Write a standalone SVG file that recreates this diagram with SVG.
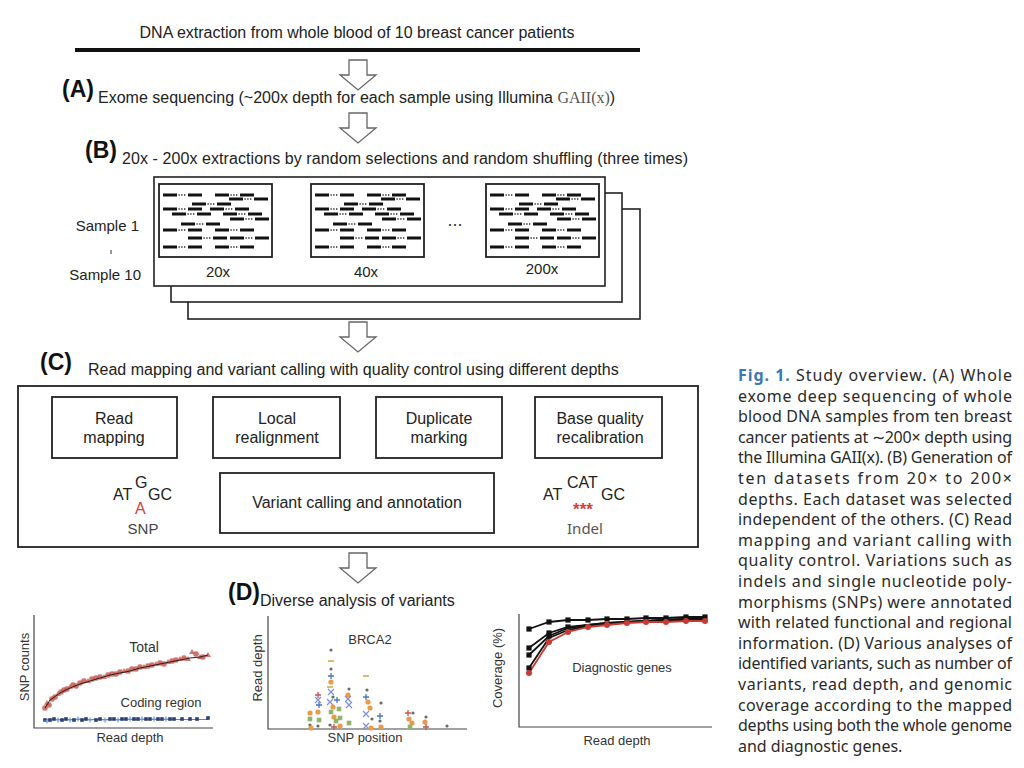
<svg xmlns="http://www.w3.org/2000/svg" xmlns:xlink="http://www.w3.org/1999/xlink" width="1024" height="768" viewBox="0 0 1024 768">
<style>
text{font-family:"Liberation Sans",Arial,sans-serif;fill:#222}
.t16{font-size:16px}
.lab{font-size:23px;font-weight:bold;fill:#111}
.sm{font-size:15px}
.ax{font-size:13px;fill:#333}
.box{fill:none;stroke:#222;stroke-width:1.8}
.frm{fill:#fff;stroke:#222;stroke-width:1.6}
.rd{stroke:#111;stroke-width:3}
.dt{stroke:#111;stroke-width:1.6;stroke-dasharray:1.2 1.6}
.arr{fill:#fff;stroke:#666;stroke-width:1.3}
.axis{fill:none;stroke:#444;stroke-width:1.2}
.cap{font-family:"Noto Sans","Open Sans",sans-serif;font-size:16px;fill:#2a2a2a}
.figl{font-weight:bold;fill:#3a78ba}
</style>
<defs>
<path id="barrow" d="M-9,0 H9 V15 H18 L0,30 L-18,15 H-9 Z"/>
<g id="read"><line x1="0" y1="0" x2="14" y2="0" class="rd"/><line x1="15.5" y1="0" x2="23.5" y2="0" class="dt"/><line x1="25" y1="0" x2="39" y2="0" class="rd"/></g>
<g id="reads">
<use xlink:href="#read" x="4" y="11"/><use xlink:href="#read" x="56" y="11"/>
<use xlink:href="#read" x="70" y="15"/>
<use xlink:href="#read" x="33" y="20"/>
<use xlink:href="#read" x="4" y="25"/><use xlink:href="#read" x="51" y="25"/>
<use xlink:href="#read" x="13" y="30"/><use xlink:href="#read" x="64" y="30"/>
<use xlink:href="#read" x="71" y="35"/>
<use xlink:href="#read" x="22" y="40"/>
<use xlink:href="#read" x="4" y="46"/><use xlink:href="#read" x="56" y="46"/>
<use xlink:href="#read" x="29" y="54"/><use xlink:href="#read" x="71" y="54"/>
<use xlink:href="#read" x="4" y="63"/><use xlink:href="#read" x="56" y="63"/>
</g>
<path id="rs" d="M-3,0H3M0,-3V3M-2.2,-2.2L2.2,2.2M-2.2,2.2L2.2,-2.2" stroke="#c8554f" stroke-width="1.3" opacity="0.85"/>
<path id="rt" d="M0,-3L3,2H-3Z" fill="#c8554f" opacity="0.8"/>
<rect id="bq" x="-1.8" y="-1.8" width="3.6" height="3.6" fill="#2c3e74"/>
<path id="bp" d="M-2.5,0H2.5M0,-2.5V2.5" stroke="#6f9bd6" stroke-width="1.2"/>
<path id="p2" d="M-3,0H3M0,-3V3" stroke="#4a74c4" stroke-width="1.3"/>
<path id="x2" d="M-3,-3L3,3M-3,3L3,-3" stroke="#7d8fd6" stroke-width="1.2"/>
<circle id="oc" r="2.6" fill="#e99a4a"/>
<rect id="gs" x="-2.3" y="-2.3" width="4.6" height="4.6" fill="#8fb46a"/>
<circle id="gd" r="1.6" fill="#6a6a6a"/>
<path id="yd" d="M-3,0H3" stroke="#c8a83e" stroke-width="1.5"/>
<path id="rp" d="M-3,0H3M0,-3V3" stroke="#c8554f" stroke-width="1.3"/>
<rect id="ksq" x="-2.6" y="-2.6" width="5.2" height="5.2" fill="#111"/>
<circle id="rc" r="3" fill="#c83a32"/>
</defs>
<rect width="1024" height="768" fill="#fff"/>

<g id="source">
<text class="t16" x="357" y="38" text-anchor="middle">DNA extraction from whole blood of 10 breast cancer patients</text>
<line x1="75" y1="50" x2="640" y2="50" stroke="#111" stroke-width="4"/>
</g>

<g id="connectors">
<use xlink:href="#barrow" class="arr" x="358" y="60"/>
<use xlink:href="#barrow" class="arr" x="358" y="113"/>
<use xlink:href="#barrow" class="arr" x="358" y="322"/>
<use xlink:href="#barrow" class="arr" x="358" y="553"/>
</g>

<g id="stepA">
<text class="lab" x="62" y="97">(A)</text>
<text class="t16" x="98" y="103">Exome sequencing (~200x depth for each sample using Illumina <tspan style="font-family:'Liberation Serif',serif;fill:#555">GAII(x)</tspan>)</text>
</g>

<g id="stepB">
<text class="lab" x="85" y="158">(B)</text>
<text class="t16" x="122" y="164" textLength="566" lengthAdjust="spacing">20x - 200x extractions by random selections and random shuffling (three times)</text>
<rect class="frm" x="188" y="209" width="452" height="110"/>
<rect class="frm" x="171" y="193" width="451" height="109"/>
<rect class="frm" x="154" y="177" width="451" height="109"/>
<g id="depth20">
<rect class="box" x="159" y="184" width="113" height="73"/>
<use xlink:href="#reads" x="159" y="184"/>
<text class="sm" x="218" y="277" text-anchor="middle">20x</text>
</g>
<g id="depth40">
<rect class="box" x="311" y="184" width="113" height="73"/>
<use xlink:href="#reads" x="311" y="184"/>
<text class="sm" x="366" y="277" text-anchor="middle">40x</text>
</g>
<text x="455" y="226" text-anchor="middle" style="font-size:18px;fill:#333">...</text>
<g id="depth200">
<rect class="box" x="486" y="184" width="113" height="73"/>
<use xlink:href="#reads" x="486" y="184"/>
<text class="sm" x="542" y="274" text-anchor="middle">200x</text>
</g>
<text class="sm" x="139" y="231" text-anchor="end">Sample 1</text>
<line x1="111" y1="250" x2="111" y2="254" stroke="#555" stroke-width="1.2"/>
<text class="sm" x="141" y="280" text-anchor="end">Sample 10</text>
</g>

<g id="stepC">
<text class="lab" x="40" y="370">(C)</text>
<text class="t16" x="88" y="375">Read mapping and variant calling with quality control using different depths</text>
<rect class="box" x="18" y="386" width="680" height="161"/>
<g id="readmapping"><rect class="box" x="52" y="397" width="125" height="61"/>
<text class="t16" x="114" y="424" text-anchor="middle">Read</text><text class="t16" x="114" y="443" text-anchor="middle">mapping</text></g>
<g id="localrealign"><rect class="box" x="213" y="397" width="127" height="61"/>
<text class="t16" x="277" y="424" text-anchor="middle">Local</text><text class="t16" x="277" y="443" text-anchor="middle">realignment</text></g>
<g id="dupmark"><rect class="box" x="376" y="397" width="126" height="61"/>
<text class="t16" x="439" y="424" text-anchor="middle">Duplicate</text><text class="t16" x="439" y="443" text-anchor="middle">marking</text></g>
<g id="bqsr"><rect class="box" x="535" y="397" width="127" height="61"/>
<text class="t16" x="600" y="424" text-anchor="middle">Base quality</text><text class="t16" x="600" y="443" text-anchor="middle">recalibration</text></g>
<g id="varcall"><rect class="box" x="220" y="473" width="274" height="60"/>
<text class="t16" x="357" y="508" text-anchor="middle">Variant calling and annotation</text></g>
<g id="snp">
<text class="t16" x="113" y="500">AT</text>
<text class="t16" x="135" y="488">G</text>
<text class="t16" x="148" y="500">GC</text>
<text class="t16" x="135" y="514" style="fill:#d8403a">A</text>
<text x="143" y="534" text-anchor="middle" style="font-size:15px;fill:#444">SNP</text>
</g>
<g id="indel">
<text class="t16" x="543" y="500">AT</text>
<text class="t16" x="567" y="488">CAT</text>
<text class="t16" x="601" y="500">GC</text>
<text x="583" y="515" text-anchor="middle" style="font-size:17px;font-weight:bold;fill:#d8403a">***</text>
<text x="585" y="534" text-anchor="middle" style="font-family:'Noto Sans',sans-serif;font-size:15px;fill:#555">Indel</text>
</g>
</g>

<g id="stepD">
<text class="lab" x="228" y="600">(D)</text>
<text class="t16" x="260" y="606">Diverse analysis of variants</text>

<g id="plot-snpcounts">
<path class="axis" d="M34,615 V728 H213"/>
<text class="ax" transform="translate(29,667) rotate(-90)" text-anchor="middle">SNP counts</text>
<text class="ax" x="144" y="652" text-anchor="middle" style="font-size:14px">Total</text>
<text class="ax" x="161" y="707" text-anchor="middle">Coding region</text>
<text class="ax" x="130" y="742" text-anchor="middle">Read depth</text>
<g>
<use xlink:href="#rs" x="45" y="708"/><use xlink:href="#rt" x="47" y="703"/><use xlink:href="#rs" x="49" y="705"/><use xlink:href="#rs" x="52" y="699"/>
<use xlink:href="#rs" x="55" y="697"/><use xlink:href="#rt" x="58" y="694"/><use xlink:href="#rs" x="61" y="692"/><use xlink:href="#rs" x="64" y="690"/>
<use xlink:href="#rs" x="67" y="689"/><use xlink:href="#rt" x="70" y="687"/><use xlink:href="#rs" x="73" y="685"/><use xlink:href="#rs" x="76" y="686"/>
<use xlink:href="#rs" x="80" y="683"/><use xlink:href="#rs" x="84" y="681"/><use xlink:href="#rt" x="88" y="681"/><use xlink:href="#rs" x="92" y="679"/>
<use xlink:href="#rs" x="96" y="678"/><use xlink:href="#rs" x="100" y="677"/><use xlink:href="#rt" x="104" y="677"/><use xlink:href="#rs" x="108" y="675"/>
<use xlink:href="#rs" x="112" y="674"/><use xlink:href="#rs" x="116" y="674"/><use xlink:href="#rs" x="120" y="672"/><use xlink:href="#rt" x="124" y="671"/>
<use xlink:href="#rs" x="128" y="671"/><use xlink:href="#rs" x="132" y="669"/><use xlink:href="#rs" x="136" y="669"/><use xlink:href="#rs" x="140" y="667"/>
<use xlink:href="#rt" x="144" y="667"/><use xlink:href="#rs" x="148" y="666"/><use xlink:href="#rs" x="152" y="665"/><use xlink:href="#rt" x="156" y="664"/>
<use xlink:href="#rs" x="160" y="663"/><use xlink:href="#rs" x="164" y="664"/><use xlink:href="#rt" x="168" y="662"/><use xlink:href="#rs" x="172" y="661"/>
<use xlink:href="#rs" x="176" y="660"/><use xlink:href="#rt" x="180" y="659"/><use xlink:href="#rs" x="184" y="658"/><use xlink:href="#rt" x="188" y="659"/>
<use xlink:href="#rt" x="192" y="652"/><use xlink:href="#rs" x="196" y="654"/><use xlink:href="#rt" x="200" y="657"/><use xlink:href="#rs" x="203" y="657"/>
<use xlink:href="#rt" x="208" y="655"/>
</g>
<polyline fill="none" stroke="#222" stroke-width="1" points="45,708 50,700 60,693 70,688 80,684 90,681 100,678 110,675 120,673 130,671 140,668 150,666 160,664 170,662 180,660 190,658 200,657 208,655"/>
<line x1="45" y1="719.5" x2="208" y2="719.5" stroke="#d35a55" stroke-width="1"/>
<g>
<use xlink:href="#bq" x="45" y="720"/><use xlink:href="#bp" x="47" y="721"/><use xlink:href="#bq" x="50" y="720"/><use xlink:href="#bq" x="54" y="719"/>
<use xlink:href="#bp" x="58" y="720"/><use xlink:href="#bq" x="62" y="720"/><use xlink:href="#bq" x="66" y="719"/><use xlink:href="#bp" x="70" y="720"/>
<use xlink:href="#bq" x="74" y="720"/><use xlink:href="#bp" x="78" y="719"/><use xlink:href="#bq" x="82" y="720"/><use xlink:href="#bq" x="86" y="719"/>
<use xlink:href="#bp" x="90" y="720"/><use xlink:href="#bq" x="96" y="720"/><use xlink:href="#bq" x="100" y="719"/><use xlink:href="#bp" x="105" y="720"/>
<use xlink:href="#bq" x="110" y="719"/><use xlink:href="#bq" x="114" y="719"/><use xlink:href="#bp" x="118" y="720"/><use xlink:href="#bq" x="122" y="719"/>
<use xlink:href="#bq" x="126" y="719"/><use xlink:href="#bp" x="130" y="719"/><use xlink:href="#bq" x="134" y="719"/><use xlink:href="#bq" x="138" y="719"/>
<use xlink:href="#bp" x="142" y="719"/><use xlink:href="#bq" x="146" y="719"/><use xlink:href="#bq" x="150" y="719"/><use xlink:href="#bp" x="154" y="719"/>
<use xlink:href="#bq" x="158" y="719"/><use xlink:href="#bq" x="162" y="719"/><use xlink:href="#bp" x="166" y="719"/><use xlink:href="#bq" x="170" y="719"/>
<use xlink:href="#bq" x="174" y="719"/><use xlink:href="#bq" x="182" y="719"/><use xlink:href="#bq" x="190" y="719"/><use xlink:href="#bq" x="197" y="719"/>
<use xlink:href="#bq" x="208" y="718"/>
</g>
</g>

<g id="plot-readdepth">
<path class="axis" d="M268,616 V729 H467"/>
<text class="ax" transform="translate(262,668) rotate(-90)" text-anchor="middle">Read depth</text>
<text class="ax" x="370" y="644" text-anchor="middle">BRCA2</text>
<text class="ax" x="365" y="742" text-anchor="middle">SNP position</text>
<g>
<use xlink:href="#oc" x="310" y="713"/><use xlink:href="#gs" x="310" y="719"/><use xlink:href="#gd" x="310" y="725"/><use xlink:href="#oc" x="311" y="728"/>
<use xlink:href="#rp" x="318" y="695"/><use xlink:href="#x2" x="318" y="700"/><use xlink:href="#p2" x="319" y="705"/><use xlink:href="#oc" x="318" y="712"/><use xlink:href="#gs" x="319" y="720"/><use xlink:href="#gd" x="318" y="726"/>
<use xlink:href="#gd" x="331" y="650"/><use xlink:href="#yd" x="331" y="661"/><use xlink:href="#gd" x="331" y="669"/><use xlink:href="#p2" x="331" y="676"/><use xlink:href="#oc" x="331" y="682"/>
<use xlink:href="#yd" x="330" y="687"/><use xlink:href="#x2" x="331" y="692"/><use xlink:href="#gd" x="333" y="697"/><use xlink:href="#x2" x="330" y="702"/><use xlink:href="#oc" x="333" y="707"/>
<use xlink:href="#gs" x="331" y="712"/><use xlink:href="#oc" x="334" y="717"/><use xlink:href="#gs" x="336" y="721"/><use xlink:href="#gd" x="330" y="725"/><use xlink:href="#rp" x="334" y="727"/>
<use xlink:href="#p2" x="337" y="700"/><use xlink:href="#gs" x="339" y="709"/><use xlink:href="#gs" x="340" y="718"/><use xlink:href="#oc" x="340" y="726"/>
<use xlink:href="#gd" x="349" y="689"/><use xlink:href="#oc" x="348" y="695"/><use xlink:href="#x2" x="348" y="699"/><use xlink:href="#x2" x="349" y="705"/><use xlink:href="#gs" x="349" y="723"/>
<use xlink:href="#yd" x="366" y="676"/><use xlink:href="#gd" x="367" y="690"/><use xlink:href="#p2" x="366" y="697"/><use xlink:href="#oc" x="368" y="702"/><use xlink:href="#oc" x="370" y="708"/>
<use xlink:href="#x2" x="366" y="714"/><use xlink:href="#gd" x="372" y="719"/><use xlink:href="#x2" x="366" y="726"/><use xlink:href="#oc" x="371" y="728"/>
<use xlink:href="#gd" x="381" y="703"/><use xlink:href="#p2" x="380" y="716"/><use xlink:href="#gd" x="380" y="721"/><use xlink:href="#oc" x="381" y="727"/>
<use xlink:href="#rp" x="408" y="713"/><use xlink:href="#gd" x="413" y="713"/><use xlink:href="#oc" x="409" y="719"/><use xlink:href="#oc" x="412" y="723"/><use xlink:href="#gs" x="410" y="727"/>
<use xlink:href="#gd" x="426" y="717"/><use xlink:href="#oc" x="425" y="722"/><use xlink:href="#rp" x="426" y="727"/>
<use xlink:href="#gd" x="447" y="726"/>
</g>
</g>

<g id="plot-coverage">
<path class="axis" d="M519,614 V727 H712"/>
<text class="ax" transform="translate(502,668) rotate(-90)" text-anchor="middle">Coverage (%)</text>
<text class="ax" x="622" y="672" text-anchor="middle">Diagnostic genes</text>
<text class="ax" x="617" y="745" text-anchor="middle">Read depth</text>
<g fill="none" stroke-width="1.8">
<polyline stroke="#111" points="529,629 549,622 568,620 588,620 607,619 627,619 646,618 666,618 686,617 705,617"/>
<polyline stroke="#111" points="529,648 549,633 568,627 588,625 607,623 627,622 646,621 666,620 686,619 705,619"/>
<polyline stroke="#111" points="529,655 549,636 568,628 588,625 607,623 627,622 646,621 666,620 686,619 705,619"/>
<polyline stroke="#111" points="529,668 549,638 568,630 588,626 607,624 627,622 646,621 666,620 686,620 705,619"/>
<polyline stroke="#c83a32" points="529,673 549,642 568,632 588,627 607,625 627,623 646,622 666,622 686,621 705,621"/>
</g>
<g>
<use xlink:href="#ksq" x="529" y="629"/><use xlink:href="#ksq" x="549" y="622"/><use xlink:href="#ksq" x="568" y="620"/><use xlink:href="#ksq" x="588" y="620"/><use xlink:href="#ksq" x="607" y="619"/><use xlink:href="#ksq" x="627" y="619"/><use xlink:href="#ksq" x="646" y="618"/><use xlink:href="#ksq" x="666" y="618"/><use xlink:href="#ksq" x="686" y="617"/><use xlink:href="#ksq" x="705" y="617"/>
<use xlink:href="#ksq" x="529" y="648"/><use xlink:href="#ksq" x="529" y="655"/><use xlink:href="#ksq" x="529" y="668"/><use xlink:href="#ksq" x="549" y="633"/><use xlink:href="#ksq" x="549" y="636"/><use xlink:href="#ksq" x="568" y="627"/>
<use xlink:href="#rc" x="529" y="673"/><use xlink:href="#rc" x="549" y="642"/><use xlink:href="#rc" x="568" y="632"/><use xlink:href="#rc" x="588" y="627"/><use xlink:href="#rc" x="607" y="625"/><use xlink:href="#rc" x="627" y="623"/><use xlink:href="#rc" x="646" y="622"/><use xlink:href="#rc" x="666" y="622"/><use xlink:href="#rc" x="686" y="621"/><use xlink:href="#rc" x="705" y="621"/>
</g>
</g>
</g>

<g id="caption" class="cap">
<text class="cap" x="738" y="381" textLength="274" lengthAdjust="spacing"><tspan class="figl">Fig. 1.</tspan> Study overview. (A) Whole</text>
<text class="cap" x="738" y="401.6" textLength="274" lengthAdjust="spacing">exome deep sequencing of whole</text>
<text class="cap" x="738" y="422.2" textLength="274" lengthAdjust="spacing">blood DNA samples from ten breast</text>
<text class="cap" x="738" y="442.8" textLength="274" lengthAdjust="spacing">cancer patients at ∼200× depth using</text>
<text class="cap" x="738" y="463.4" textLength="274" lengthAdjust="spacing">the Illumina GAII(x). (B) Generation of</text>
<text class="cap" x="738" y="484" textLength="274" lengthAdjust="spacing">ten datasets from 20× to 200×</text>
<text class="cap" x="738" y="504.6" textLength="274" lengthAdjust="spacing">depths. Each dataset was selected</text>
<text class="cap" x="738" y="525.2" textLength="274" lengthAdjust="spacing">independent of the others. (C) Read</text>
<text class="cap" x="738" y="545.8" textLength="274" lengthAdjust="spacing">mapping and variant calling with</text>
<text class="cap" x="738" y="566.4" textLength="274" lengthAdjust="spacing">quality control. Variations such as</text>
<text class="cap" x="738" y="587" textLength="274" lengthAdjust="spacing">indels and single nucleotide poly-</text>
<text class="cap" x="738" y="607.6" textLength="274" lengthAdjust="spacing">morphisms (SNPs) were annotated</text>
<text class="cap" x="738" y="628.2" textLength="274" lengthAdjust="spacing">with related functional and regional</text>
<text class="cap" x="738" y="648.8" textLength="274" lengthAdjust="spacing">information. (D) Various analyses of</text>
<text class="cap" x="738" y="669.4" textLength="274" lengthAdjust="spacing">identified variants, such as number of</text>
<text class="cap" x="738" y="690" textLength="274" lengthAdjust="spacing">variants, read depth, and genomic</text>
<text class="cap" x="738" y="710.6" textLength="274" lengthAdjust="spacing">coverage according to the mapped</text>
<text class="cap" x="738" y="731.2" textLength="274" lengthAdjust="spacing">depths using both the whole genome</text>
<text class="cap" x="738" y="751.8">and diagnostic genes.</text>
</g>
</svg>
